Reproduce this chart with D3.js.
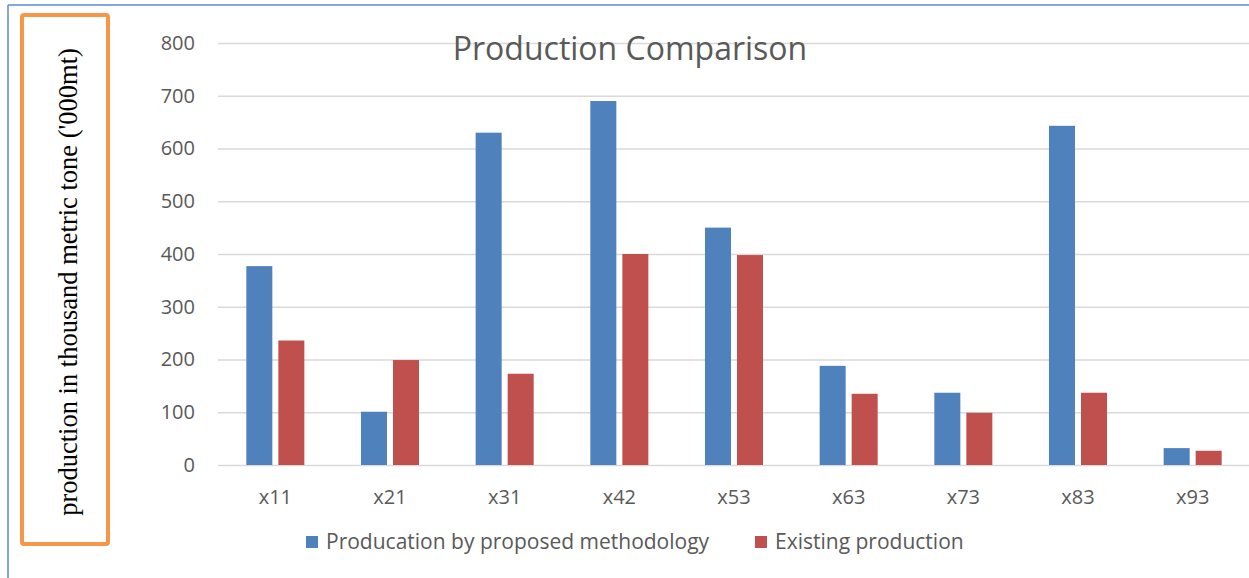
<!DOCTYPE html>
<html>
<head>
<meta charset="utf-8">
<script src="https://cdn.jsdelivr.net/npm/d3@7"></script>
<style>
  html, body { margin: 0; padding: 0; background: #fff; }
  svg { display: block; }
</style>
</head>
<body>
<svg id="chart" width="1249" height="578"></svg>
<script>
const categories = ["x11", "x21", "x31", "x42", "x53", "x63", "x73", "x83", "x93"];
const proposed = [377, 101, 630, 690, 450, 188, 137, 643, 32];
const existing = [236, 199, 173, 400, 398, 135, 99, 137, 27];
const seriesNames = ["Producation by proposed methodology", "Existing production"];
const seriesColors = ["#4F81BD", "#C0504D"];
const yTicks = [0, 100, 200, 300, 400, 500, 600, 700, 800];
const title = "Production Comparison";
const yLabel = "production in thousand metric tone ('000mt)";

const svg = d3.select("#chart");
const W = 1249, H = 578;
const plot = { left: 218, right: 1250, top: 43, bottom: 465 };

// outer frame
svg.append("line").attr("x1", 8).attr("x2", 8).attr("y1", 5).attr("y2", H)
  .attr("stroke", "#5B8BD0").attr("stroke-width", 1.5);
svg.append("line").attr("x1", 8).attr("x2", W).attr("y1", 5).attr("y2", 5)
  .attr("stroke", "#5B8BD0").attr("stroke-width", 1.5);

const y = d3.scaleLinear().domain([0, 800]).range([plot.bottom, plot.top]);
const x0 = d3.scaleBand().domain(categories).range([plot.left, plot.right])
  .paddingInner(0.494).paddingOuter(0.247);
const x1 = d3.scaleBand().domain(seriesNames).range([0, x0.bandwidth()])
  .paddingInner(0.1875).paddingOuter(0);

// gridlines
const yAxis = d3.axisLeft(y).tickValues(yTicks).tickSize(-(plot.right - plot.left)).tickPadding(23);
const gy = svg.append("g").attr("transform", `translate(${plot.left},0)`).call(yAxis);
gy.select(".domain").remove();
gy.selectAll(".tick line").attr("stroke", "#D9D9D9").attr("stroke-width", 1.5);
gy.selectAll(".tick text").attr("fill", "#595959")
  .style("font-family", "'Open Sans', sans-serif").style("font-size", "20px");

// title
svg.append("text").attr("x", 630).attr("y", 60).attr("text-anchor", "middle")
  .attr("fill", "#595959").style("font-family", "'Open Sans', sans-serif")
  .style("font-size", "32px").text(title);

// bars
const data = categories.map((c, i) => ({ cat: c, vals: [proposed[i], existing[i]] }));
const groups = svg.append("g").selectAll("g").data(data).join("g")
  .attr("transform", d => `translate(${x0(d.cat)},0)`);
groups.selectAll("rect").data(d => d.vals.map((v, k) => ({ v, k })))
  .join("rect")
  .attr("x", d => x1(seriesNames[d.k]))
  .attr("width", x1.bandwidth())
  .attr("y", d => y(d.v))
  .attr("height", d => y(0) - y(d.v))
  .attr("fill", d => seriesColors[d.k]);

// x axis labels
const xAxis = d3.axisBottom(x0).tickSize(0).tickPadding(25);
const gx = svg.append("g").attr("transform", `translate(0,${plot.bottom})`).call(xAxis);
gx.select(".domain").remove();
gx.selectAll(".tick text").attr("fill", "#595959")
  .style("font-family", "'Open Sans', sans-serif").style("font-size", "20px");

// legend
const legendX = [306, 755];
const leg = svg.append("g");
seriesNames.forEach((name, k) => {
  leg.append("rect").attr("x", legendX[k]).attr("y", 536).attr("width", 12).attr("height", 12)
    .attr("fill", seriesColors[k]);
  leg.append("text").attr("x", legendX[k] + 20).attr("y", 549)
    .attr("fill", "#595959").style("font-family", "'Open Sans', sans-serif")
    .style("font-size", "21px").text(name);
});

// y label box
svg.append("rect").attr("x", 22).attr("y", 15).attr("width", 86).attr("height", 529)
  .attr("rx", 2).attr("fill", "none").attr("stroke", "#F79646").attr("stroke-width", 4);
svg.append("text").attr("transform", "translate(77,282) rotate(-90)")
  .attr("text-anchor", "middle").attr("fill", "#000")
  .style("font-family", "'Liberation Serif', 'Times New Roman', serif")
  .style("font-size", "26.5px").text(yLabel);
</script>
</body>
</html>
